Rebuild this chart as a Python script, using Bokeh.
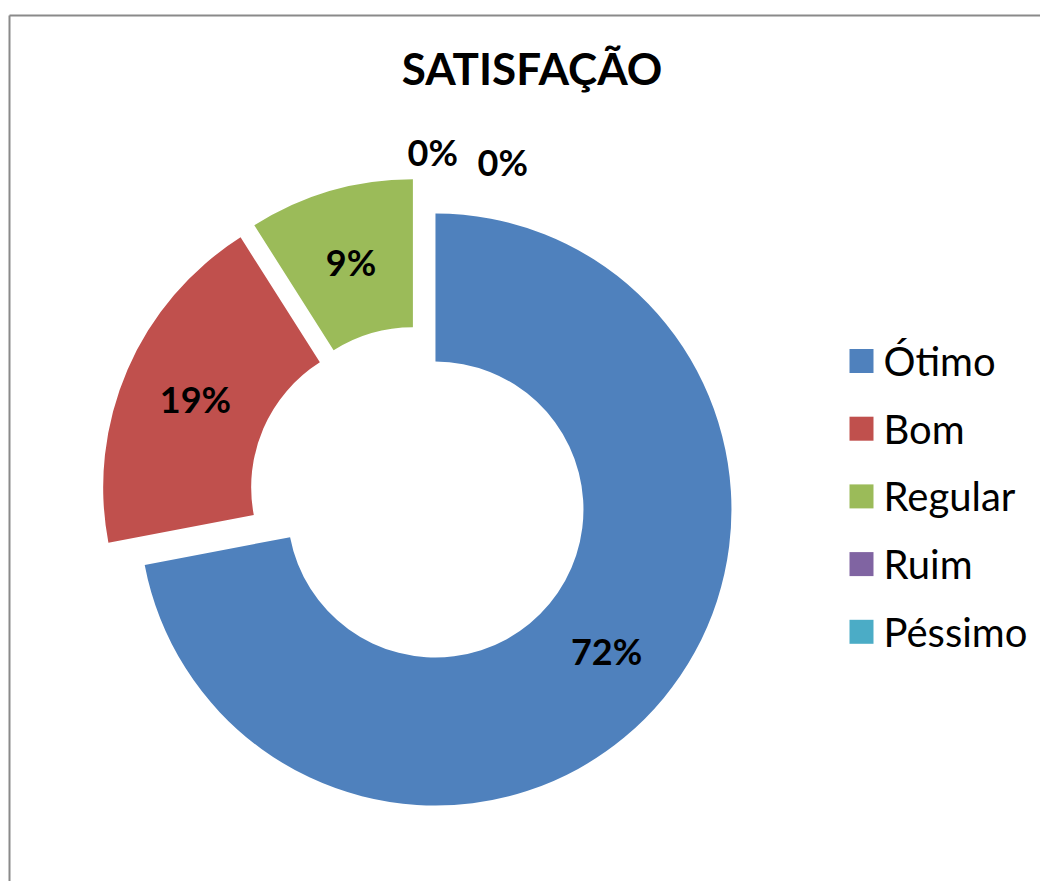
import math
from bokeh.plotting import figure
from bokeh.models import ColumnDataSource, Range1d
from bokeh.core.properties import value
from bokeh.embed import file_html
from bokeh.resources import INLINE

# ---------------- data ----------------
title_text = "SATISFAÇÃO"
categories = ["Ótimo", "Bom", "Regular", "Ruim", "Péssimo"]
percent = [72, 19, 9, 0, 0]
labels = ["72%", "19%", "9%", "0%", "0%"]
colors = ["#4F81BD", "#C0504D", "#9BBB59", "#8064A2", "#4BACC6"]

# ---------------- layout ----------------
W, H = 1040, 881
def px(X):  # page x -> data x
    return X
def py(Y):  # page y -> data y
    return H - Y

CX, CY = px(418.4), py(495.3)
R_OUT, R_IN, EXPLODE = 296, 148, 21.5
R_LBL = (R_OUT + R_IN) / 2
R_ZERO = 344
ZERO_NUDGE = [0, 0, 0, math.radians(2.3), math.radians(14.1)]
FONT = "Lato"

p = figure(width=W, height=H, x_range=Range1d(0, W), y_range=Range1d(0, H),
           output_backend="svg", toolbar_location=None, min_border=0)
p.axis.visible = False
p.grid.visible = False
p.outline_line_color = None
p.background_fill_color = "white"
p.border_fill_color = "white"

# chart border (top and left visible)
p.segment(x0=[px(9), px(9)], y0=[py(15), py(15)], x1=[px(1040), px(9)], y1=[py(15), py(881)],
          line_color="#8a8a8a", line_width=2)

total = sum(percent)
wd = dict(x=[], y=[], start=[], end=[], color=[])
ld = dict(x=[], y=[], text=[])
cum = 0.0
for i, (v, c) in enumerate(zip(percent, colors)):
    a0 = cum / total * 2 * math.pi
    a1 = (cum + v) / total * 2 * math.pi
    mid = (a0 + a1) / 2
    ox = CX + EXPLODE * math.sin(mid)
    oy = CY + EXPLODE * math.cos(mid)
    if v > 0:
        wd["x"].append(ox); wd["y"].append(oy)
        wd["start"].append(math.pi / 2 - a0); wd["end"].append(math.pi / 2 - a1)
        wd["color"].append(c)
        lx = ox + R_LBL * math.sin(mid)
        ly = oy + R_LBL * math.cos(mid)
    else:
        ang = mid + ZERO_NUDGE[i]
        lx = CX + R_ZERO * math.sin(ang)
        ly = CY + R_ZERO * math.cos(ang)
    ld["x"].append(lx); ld["y"].append(ly); ld["text"].append(labels[i])
    cum += v

p.annular_wedge(x="x", y="y", inner_radius=R_IN, outer_radius=R_OUT,
                start_angle="start", end_angle="end", direction="clock",
                fill_color="color", line_color=None, source=ColumnDataSource(wd))

p.text(x="x", y="y", text="text", source=ColumnDataSource(ld),
       text_font=value(FONT), text_font_style="bold", text_font_size="36px",
       text_align="center", text_baseline="middle", text_color="black")

# title
p.text(x=[px(531.5)], y=[py(67)], text=[title_text], text_font=value(FONT),
       text_font_style="bold", text_font_size="44px", text_align="center",
       text_baseline="middle", text_color="black")

# legend
LEG_X, LEG_Y0, LEG_DY, SQ = 861, 360.5, 67.7, 24
leg = dict(x=[], y=[], tx=[], text=categories, color=colors)
for i in range(len(categories)):
    leg["x"].append(px(LEG_X))
    leg["y"].append(py(LEG_Y0 + i * LEG_DY))
    leg["tx"].append(px(883))
lsrc = ColumnDataSource(leg)
p.rect(x="x", y="y", width=SQ, height=SQ, fill_color="color", line_color=None, source=lsrc)
p.text(x="tx", y="y", text="text", source=lsrc, text_font=value(FONT),
       text_font_size="40px", text_align="left", text_baseline="middle", text_color="black")

open("out.html", "w").write(file_html(p, INLINE))
